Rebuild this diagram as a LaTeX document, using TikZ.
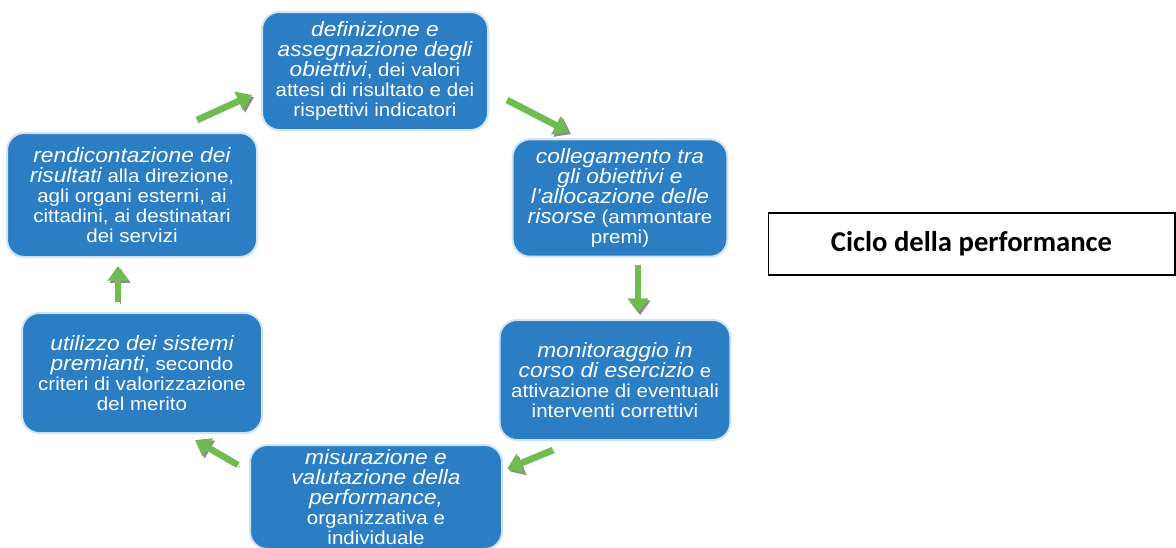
\documentclass[tikz,border=0pt]{standalone}
\usepackage{fontspec}
\setsansfont{Liberation Sans}[FakeStretch=1.1]
\newfontfamily\titlefont{Carlito}
\usetikzlibrary{arrows.meta}
\definecolor{cycblue}{RGB}{43,125,196}
\definecolor{cycedge}{RGB}{205,228,246}
\definecolor{cycgreen}{RGB}{112,188,80}
\newcommand{\kw}[1]{{\fontsize{15.5}{15}\selectfont\itshape #1}}
\newcommand{\stagefont}{\sffamily\fontsize{14}{15}\selectfont\setlength{\lineskiplimit}{-8pt}}

\begin{document}
\begin{tikzpicture}[x=0.75pt,y=-0.75pt,
  stage/.style={rectangle,rounded corners=13pt,fill=cycblue,draw=cycedge,line width=1.5pt,
    text=white,align=center,inner sep=1pt,font=\stagefont},
  flow/.style={draw=cycgreen,line width=5pt,-{Triangle[width=15pt,length=11pt]},
    preaction={draw=black!45,transform canvas={shift={(1.6pt,-1.6pt)}}}},
  caption/.style={draw=black,line width=1pt,minimum width=305pt,minimum height=46.5pt,
    font=\titlefont\bfseries\fontsize{21.5}{23}\selectfont}]
\useasboundingbox (0,0) rectangle (1176,547);

\node[stage,minimum width=169.5pt,minimum height=88.5pt] (defin) at (375,71)
  {\kw{definizione e}\\ \kw{assegnazione degli}\\ \kw{obiettivi}, dei valori\\ attesi di risultato e dei\\ rispettivi indicatori};
\node[stage,minimum width=161pt,minimum height=88pt] (colleg) at (620,198)
  {\kw{collegamento tra}\\ \kw{gli obiettivi e}\\ \kw{l'allocazione delle}\\ \kw{risorse} (ammontare\\ premi)};
\node[stage,minimum width=173pt,minimum height=90pt] (monit) at (615,380)
  {\kw{monitoraggio in}\\ \kw{corso di esercizio} e\\ attivazione di eventuali\\ interventi correttivi};
\node[stage,minimum width=189pt,minimum height=78pt] (misur) at (376,497)
  {\kw{misurazione e}\\ \kw{valutazione della}\\ \kw{performance,}\\ organizzativa e\\ individuale};
\node[stage,minimum width=180pt,minimum height=90pt] (utiliz) at (142,373)
  {\kw{utilizzo dei sistemi}\\ \kw{premianti}, secondo\\ criteri di valorizzazione\\ del merito};
\node[stage,minimum width=187.5pt,minimum height=93pt] (rendic) at (132,195)
  {\kw{rendicontazione dei}\\ \kw{risultati} alla direzione,\\ agli organi esterni, ai\\ cittadini, ai destinatari\\ dei servizi};

\node[caption] (titolo) at (971.5,244) {Ciclo della performance};

% frecce del ciclo
\coordinate (a1s) at (197,120); \coordinate (a1e) at (252,95);
\coordinate (a2s) at (507,100); \coordinate (a2e) at (569,132);
\coordinate (a3s) at (638,265); \coordinate (a3e) at (638,313);
\coordinate (a4s) at (553,450); \coordinate (a4e) at (507,469);
\coordinate (a5s) at (238,465); \coordinate (a5e) at (195,440);
\coordinate (a6s) at (118,302); \coordinate (a6e) at (118,266);
\foreach \s/\e in {a1s/a1e,a2s/a2e,a3s/a3e,a4s/a4e,a5s/a5e,a6s/a6e}
  \draw[flow] (\s) -- (\e);
\end{tikzpicture}
\end{document}
